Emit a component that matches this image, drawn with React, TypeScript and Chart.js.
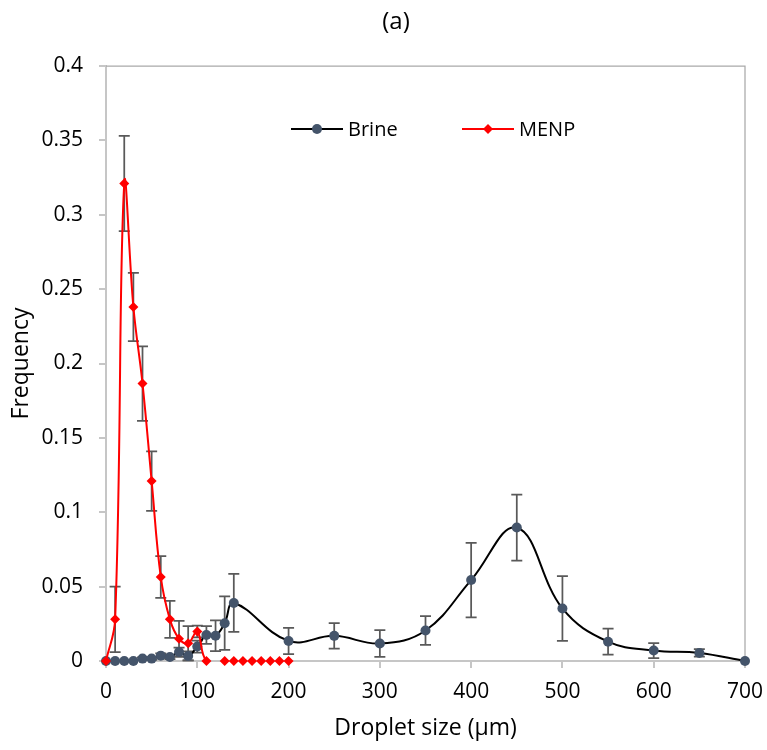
import React, { useEffect, useRef } from "react";
import { Chart, registerables } from "chart.js";

Chart.register(...registerables);

// ---- Data ----
const BRINE_X = [0, 10, 20, 30, 40, 50, 60, 70, 80, 90, 100, 110, 120, 130, 140, 200, 250, 300, 350, 400, 450, 500, 550, 600, 650, 700];
const BRINE_Y = [0, 0, 0, 0, 0.0016, 0.0016, 0.0036, 0.0027, 0.006, 0.0034, 0.0097, 0.0175, 0.017, 0.0254, 0.039, 0.0135, 0.0169, 0.0118, 0.0205, 0.0544, 0.0897, 0.0353, 0.013, 0.007, 0.0054, 0];
const BRINE_ERR = [0, 0, 0, 0, 0.0008, 0.0008, 0.0015, 0.0015, 0.003, 0.003, 0.004, 0.006, 0.0103, 0.018, 0.0195, 0.0088, 0.0085, 0.009, 0.0097, 0.025, 0.0222, 0.0217, 0.0087, 0.005, 0.0025, 0];

const MENP_X = [0, 10, 20, 30, 40, 50, 60, 70, 80, 90, 100, 110, 130, 140, 150, 160, 170, 180, 190, 200];
const MENP_Y = [0, 0.028, 0.321, 0.238, 0.1865, 0.121, 0.0565, 0.028, 0.015, 0.012, 0.0198, 0, 0, 0, 0, 0, 0, 0, 0, 0];
const MENP_ERR = [0, 0.022, 0.032, 0.023, 0.025, 0.02, 0.014, 0.0125, 0.012, 0.0115, 0.004, 0, 0, 0, 0, 0, 0, 0, 0, 0];

const X_TICKS = [0, 100, 200, 300, 400, 500, 600, 700];
const Y_TICKS = [0, 0.05, 0.1, 0.15, 0.2, 0.25, 0.3, 0.35, 0.4];
const Y_TICK_LABELS = ["0", "0.05", "0.1", "0.15", "0.2", "0.25", "0.3", "0.35", "0.4"];

const SERIES_NAMES = ["Brine", "MENP"];
const TITLE = "(a)";
const X_TITLE = "Droplet size (µm)";
const Y_TITLE = "Frequency";

const FONT = "'Open Sans', 'Liberation Sans', sans-serif";
const BRINE_COLOR = "#44546A";
const MENP_COLOR = "#FF0000";
const ERR_COLOR = "#595959";
const AXIS_COLOR = "#C6C6C6";

const errorBarPlugin = {
  id: "errorBars",
  beforeDatasetsDraw(chart: any) {
    const ctx = chart.ctx;
    const xs = chart.scales.x;
    const ys = chart.scales.y;
    const sets = [
      { x: BRINE_X, y: BRINE_Y, e: BRINE_ERR },
      { x: MENP_X, y: MENP_Y, e: MENP_ERR },
    ];
    ctx.save();
    ctx.strokeStyle = ERR_COLOR;
    ctx.lineWidth = 1.75;
    const cap = 5.5;
    for (const s of sets) {
      for (let i = 0; i < s.x.length; i++) {
        const err = s.e[i];
        if (!err) continue;
        const px = xs.getPixelForValue(s.x[i]);
        const top = ys.getPixelForValue(s.y[i] + err);
        const bot = ys.getPixelForValue(Math.max(s.y[i] - err, -0.002));
        ctx.beginPath();
        ctx.moveTo(px, top);
        ctx.lineTo(px, bot);
        ctx.moveTo(px - cap, top);
        ctx.lineTo(px + cap, top);
        ctx.moveTo(px - cap, bot);
        ctx.lineTo(px + cap, bot);
        ctx.stroke();
      }
    }
    // plot-area border (top and right)
    const a = chart.chartArea;
    ctx.strokeStyle = "#A9A9A9";
    ctx.lineWidth = 1.25;
    ctx.beginPath();
    ctx.moveTo(a.left, a.top);
    ctx.lineTo(a.right, a.top);
    ctx.lineTo(a.right, a.bottom);
    ctx.stroke();
    ctx.restore();
  },
};

const decorPlugin = {
  id: "decor",
  afterDraw(chart: any) {
    const ctx = chart.ctx;
    const a = chart.chartArea;
    ctx.save();
    // title
    ctx.fillStyle = "#000";
    ctx.font = `24px ${FONT}`;
    ctx.textAlign = "center";
    ctx.textBaseline = "middle";
    ctx.fillText(TITLE, 396, 22);
    // legend
    const ly = a.top + 63;
    const items = [
      { x: 291, color: "#000", marker: BRINE_COLOR, style: "circle", name: SERIES_NAMES[0] },
      { x: 462, color: MENP_COLOR, marker: MENP_COLOR, style: "rectRot", name: SERIES_NAMES[1] },
    ];
    ctx.font = `20px ${FONT}`;
    ctx.textAlign = "left";
    for (const it of items) {
      ctx.strokeStyle = it.color;
      ctx.lineWidth = 2;
      ctx.beginPath();
      ctx.moveTo(it.x, ly);
      ctx.lineTo(it.x + 52, ly);
      ctx.stroke();
      ctx.fillStyle = it.marker;
      ctx.beginPath();
      if (it.style === "circle") {
        ctx.arc(it.x + 26, ly, 5, 0, Math.PI * 2);
      } else {
        ctx.moveTo(it.x + 26, ly - 5);
        ctx.lineTo(it.x + 31, ly);
        ctx.lineTo(it.x + 26, ly + 5);
        ctx.lineTo(it.x + 21, ly);
        ctx.closePath();
      }
      ctx.fill();
      ctx.fillStyle = "#000";
      ctx.fillText(it.name, it.x + 57, ly + 1);
    }
    ctx.restore();
  },
};

export default function App() {
  const ref = useRef<HTMLCanvasElement | null>(null);

  useEffect(() => {
    document.body.style.margin = "0";
    const canvas = ref.current;
    if (!canvas) return;
    Chart.defaults.font.family = FONT;

    const chart = new Chart(canvas, {
      type: "line",
      data: {
        datasets: [
          {
            label: SERIES_NAMES[1],
            data: MENP_X.map((x, i) => ({ x, y: MENP_Y[i] })),
            borderColor: MENP_COLOR,
            backgroundColor: MENP_COLOR,
            borderWidth: 2,
            pointStyle: "rectRot",
            pointRadius: 5,
            pointBorderWidth: 0,
            pointBackgroundColor: MENP_COLOR,
            tension: 0.4,
            order: 0,
            clip: false,
            segment: {
              borderColor: (c: any) => (c.p0.parsed.x >= 110 ? "rgba(0,0,0,0)" : MENP_COLOR),
            },
          } as any,
          {
            label: SERIES_NAMES[0],
            data: BRINE_X.map((x, i) => ({ x, y: BRINE_Y[i] })),
            borderColor: "#000000",
            backgroundColor: BRINE_COLOR,
            borderWidth: 2,
            pointStyle: "circle",
            pointRadius: 5,
            pointBorderWidth: 0,
            pointBackgroundColor: BRINE_COLOR,
            tension: 0.4,
            order: 1,
            clip: false,
          } as any,
        ],
      },
      options: {
        animation: false,
        responsive: false,
        events: [],
        layout: { padding: { top: 66, right: 22, left: 0, bottom: 0 } },
        plugins: {
          legend: { display: false },
          tooltip: { enabled: false },
          title: { display: false },
        },
        scales: {
          x: {
            type: "linear",
            min: 0,
            max: 700,
            afterBuildTicks: (s: any) => {
              s.ticks = X_TICKS.map((v) => ({ value: v }));
            },
            afterFit: (s: any) => {
              s.height = 89;
              s.paddingLeft = 0;
              s.paddingRight = 0;
            },
            ticks: {
              color: "#000",
              font: { size: 21, family: FONT },
              padding: 11,
              maxRotation: 0,
              callback: (v: any) => String(v),
            },
            grid: {
              drawOnChartArea: false,
              drawTicks: true,
              tickLength: 7,
              color: AXIS_COLOR,
              lineWidth: 2,
            },
            border: { display: true, color: AXIS_COLOR, width: 2 },
            title: {
              display: true,
              text: X_TITLE,
              color: "#000",
              font: { size: 23, family: FONT },
              padding: { top: 0, bottom: 8 },
            },
          },
          y: {
            type: "linear",
            min: 0,
            max: 0.4,
            afterBuildTicks: (s: any) => {
              s.ticks = Y_TICKS.map((v) => ({ value: v }));
            },
            afterFit: (s: any) => {
              s.width = 106;
              s.paddingTop = 0;
              s.paddingBottom = 0;
            },
            ticks: {
              color: "#000",
              font: { size: 21, family: FONT },
              padding: 16,
              callback: (v: any) => {
                const idx = Y_TICKS.findIndex((t) => Math.abs(t - v) < 1e-9);
                return idx >= 0 ? Y_TICK_LABELS[idx] : "";
              },
            },
            grid: {
              drawOnChartArea: false,
              drawTicks: true,
              tickLength: 7,
              color: AXIS_COLOR,
              lineWidth: 2,
            },
            border: { display: true, color: AXIS_COLOR, width: 2 },
            title: {
              display: true,
              text: Y_TITLE,
              color: "#000",
              font: { size: 23, family: FONT },
              padding: { top: 8, bottom: 0 },
            },
          },
        },
      },
      plugins: [errorBarPlugin, decorPlugin],
    });

    return () => chart.destroy();
  }, []);

  return (
    <div style={{ width: 767, height: 750, background: "#fff" }}>
      <canvas ref={ref} width={767} height={750} style={{ display: "block", width: 767, height: 750 }} />
    </div>
  );
}
